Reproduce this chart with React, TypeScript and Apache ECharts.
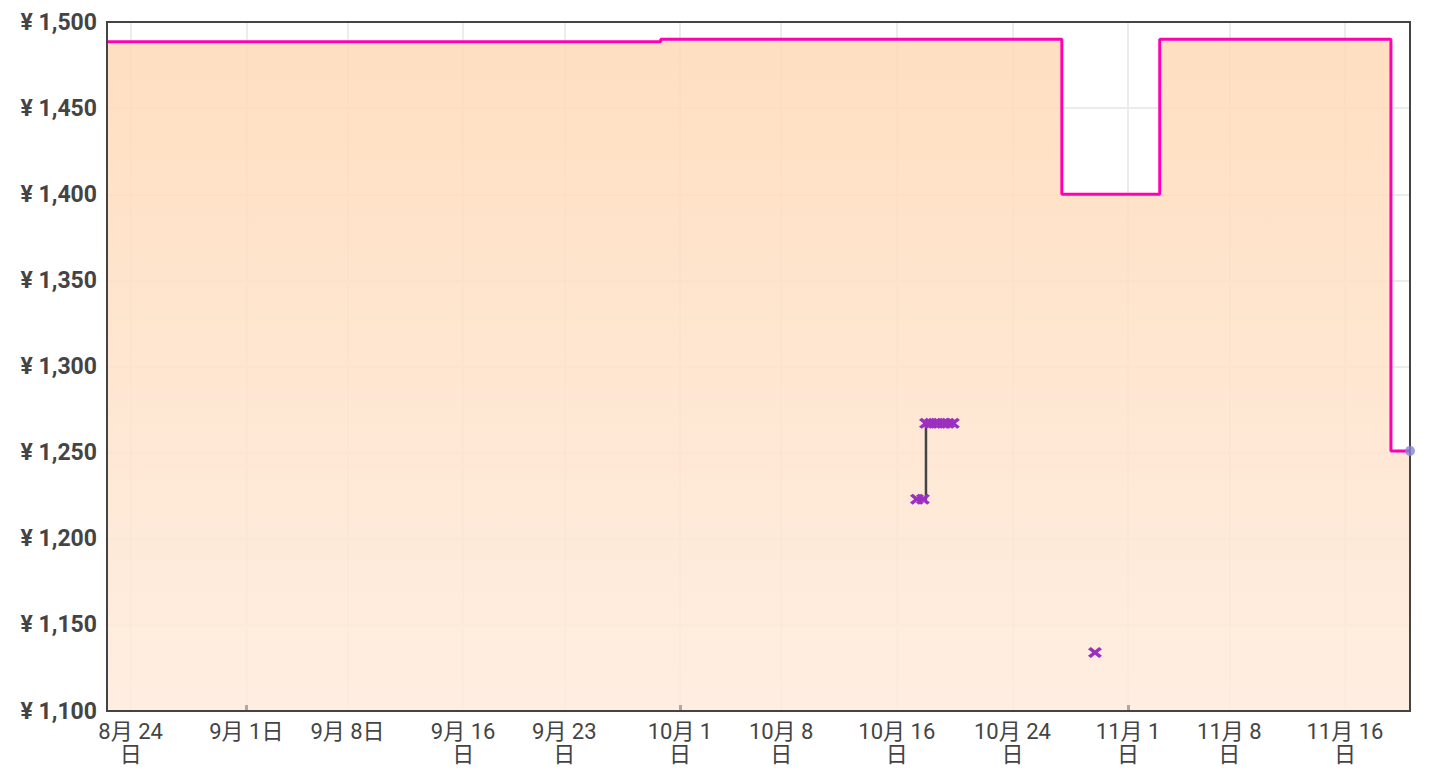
import React, { useEffect, useRef } from "react";
import * as echarts from "echarts";

// ---- helpers ----
const ts = (s: string): number => {
  const [d, t] = s.split(" ");
  const [y, m, dd] = d.split("-").map(Number);
  const [h, mi] = (t || "00:00").split(":").map(Number);
  return Date.UTC(y, m - 1, dd, h, mi);
};

// ---- axis range ----
const axisStart = "2024-08-22 08:45";
const axisEnd = "2024-11-20 12:00";

// ---- y ticks ----
const yMin = 1100;
const yMax = 1500;
const yStep = 50;

// ---- x tick labels (date positions and their text) ----
const xTickDates = [
  "2024-08-24", "2024-09-01", "2024-09-08", "2024-09-16", "2024-09-23", "2024-10-01",
  "2024-10-08", "2024-10-16", "2024-10-24", "2024-11-01", "2024-11-08", "2024-11-16",
];
const xTickLabels = [
  "8月 24\n日", "9月 1日", "9月 8日", "9月 16\n日", "9月 23\n日", "10月 1\n日",
  "10月 8\n日", "10月 16\n日", "10月 24\n日", "11月 1\n日", "11月 8\n日", "11月 16\n日",
];
const monthStartDates = ["2024-09-01", "2024-10-01", "2024-11-01"];

// ---- buy box price (step line with area) ----
const buyBoxTimes = [
  "2024-08-22 08:45", "2024-09-29 16:00", "2024-10-27 10:00",
  "2024-11-03 04:30", "2024-11-19 04:20", "2024-11-20 12:00",
];
const buyBoxValues = [1488.6, 1490, 1400, 1490, 1251, 1251];

// ---- offer price points (dark step line with x markers) ----
const offerTimes = [
  "2024-10-17 09:25", "2024-10-17 19:25", "2024-10-18 00:25", "2024-10-18 08:40",
  "2024-10-18 18:40", "2024-10-19 04:35", "2024-10-19 12:55", "2024-10-19 21:10",
  "2024-10-19 21:10", "2024-10-29 17:00",
];
const offerValues: (number | null)[] = [1223, 1223, 1267, 1267, 1267, 1267, 1267, 1267, null, 1134];

// ---- last known point ----
const lastPointTime = "2024-11-20 12:00";
const lastPointValue = 1251;

const X_PATH = "path://M0,2L2,0L5,3L8,0L10,2L7,5L10,8L8,10L5,7L2,10L0,8L3,5Z";
const FONT = 'Roboto, "Noto Sans CJK JP", sans-serif';

export default function App() {
  const ref = useRef<HTMLDivElement>(null);

  useEffect(() => {
    if (!ref.current) return;
    const chart = echarts.init(ref.current, null, { renderer: "svg" });

    const xTicks = xTickDates.map((d) => ts(d));
    const monthTicks = monthStartDates.map((d) => ts(d));

    const buyBox = buyBoxTimes.map((t, i) => [ts(t), buyBoxValues[i]]);
    const offers = offerTimes.map((t, i) => [ts(t), offerValues[i] === null ? "-" : offerValues[i]]);

    chart.setOption({
      animation: false,
      backgroundColor: "#ffffff",
      grid: {
        left: 107,
        right: 30,
        top: 22,
        bottom: 59,
        show: true,
        z: 10,
        borderColor: "#444444",
        borderWidth: 2,
        backgroundColor: "transparent",
        containLabel: false,
        outerBoundsMode: "none",
      },
      xAxis: [
        {
          type: "value",
          min: ts(axisStart),
          max: ts(axisEnd),
          scale: true,
          axisLine: { show: false },
          axisTick: { show: false, customValues: xTicks },
          splitLine: { show: true, lineStyle: { color: "#ECECEC", width: 2 } },
          axisLabel: {
            customValues: xTicks,
            hideOverlap: false,
            margin: 9,
            color: "#444444",
            fontFamily: FONT,
            fontSize: 22,
            lineHeight: 23,
            formatter: (v: number) => {
              const i = xTicks.findIndex((t) => Math.abs(t - v) < 60000);
              return i >= 0 ? xTickLabels[i] : "";
            },
          },
        },
        {
          type: "value",
          min: ts(axisStart),
          max: ts(axisEnd),
          scale: true,
          position: "bottom",
          z: 6,
          axisLine: { show: false },
          axisLabel: { show: false, customValues: monthTicks },
          splitLine: { show: false },
          axisTick: {
            show: true,
            inside: true,
            length: 6,
            customValues: monthTicks,
            lineStyle: { color: "#AAAAAA", width: 3 },
          },
        },
      ],
      yAxis: {
        type: "value",
        min: yMin,
        max: yMax,
        interval: yStep,
        axisLine: { show: false },
        axisTick: { show: false },
        splitLine: { show: true, lineStyle: { color: "#ECECEC", width: 2 } },
        axisLabel: {
          margin: 10,
          color: "#444444",
          fontFamily: FONT,
          fontWeight: "bold",
          fontSize: 23,
          formatter: (v: number) => "¥ " + v.toLocaleString("en-US"),
        },
      },
      series: [
        {
          type: "line",
          step: "end",
          data: buyBox,
          showSymbol: false,
          lineStyle: { color: "#FF00B4", width: 3 },
          itemStyle: { color: "#FF00B4" },
          areaStyle: {
            opacity: 0.85,
            color: new echarts.graphic.LinearGradient(0, 0, 0, 1, [
              { offset: 0, color: "#FFD9B6" },
              { offset: 1, color: "#FEEBDC" },
            ]),
          },
          z: 2,
        },
        {
          type: "line",
          step: "end",
          data: offers,
          connectNulls: false,
          showSymbol: true,
          symbol: X_PATH,
          symbolSize: [14, 11],
          lineStyle: { color: "#444444", width: 2.5 },
          itemStyle: { color: "#9B30C0" },
          z: 3,
        },
        {
          type: "scatter",
          data: [[ts(lastPointTime), lastPointValue]],
          symbol: "circle",
          symbolSize: 10,
          clip: false,
          itemStyle: { color: "#8585DA" },
          z: 20,
        },
      ],
    });

    return () => chart.dispose();
  }, []);

  return (
    <div
      ref={ref}
      style={{ position: "absolute", left: 0, top: 0, width: 1440, height: 770 }}
    />
  );
}
